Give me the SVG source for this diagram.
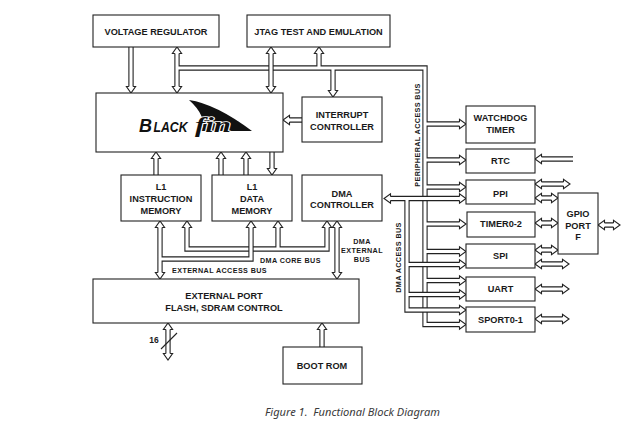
<svg xmlns="http://www.w3.org/2000/svg" xmlns:xlink="http://www.w3.org/1999/xlink" width="629" height="427" viewBox="0 0 629 427">
<style>
.box{fill:#fff;stroke:#222;stroke-width:1.1}
.o{fill:none;stroke:#222;stroke-width:5.3;stroke-linejoin:miter;stroke-linecap:butt}
.i{fill:none;stroke:#fff;stroke-width:3.1;stroke-linejoin:miter;stroke-linecap:butt}
.t{font-family:"Liberation Sans",Arial,sans-serif;font-weight:bold;font-size:9.2px;fill:#1a1a1a;text-anchor:middle}
.s{font-family:"Liberation Sans",Arial,sans-serif;font-weight:bold;font-size:7.2px;letter-spacing:0.4px;fill:#1a1a1a}
.sm{text-anchor:middle}
.logo{font-family:"Liberation Sans",Arial,sans-serif;font-weight:bold;font-style:italic;fill:#111}
</style>
<defs>
<path id="h" d="M-2.1,6.5 L-4.6,6.5 L0,0 L4.6,6.5 L2.1,6.5" fill="#fff" stroke="#222" stroke-width="1.1" stroke-linejoin="miter"/>
</defs>
<rect width="629" height="427" fill="#fff"/>
<g id="connectors">
 <g>
  <path class="o" d="M177,53 V87 M177,68 H425 V324.5 H460 M425,124 H460 M425,160 H460 M425,187 H460 M425,224 H460 M425,251.5 H460 M425,280.5 H460 M319,68 V53 M333,68 V91"/>
  <path class="i" d="M177,53 V87 M177,68 H425 V324.5 H460 M425,124 H460 M425,160 H460 M425,187 H460 M425,224 H460 M425,251.5 H460 M425,280.5 H460 M319,68 V53 M333,68 V91"/>
 </g>
 <g>
  <path class="o" d="M271,53 V87"/>
  <path class="i" d="M271,53 V87"/>
 </g>
 <g>
  <path class="o" d="M390,198.5 H460 M407,198.5 V310 H460 M407,264.5 H460 M407,294.5 H460"/>
  <path class="i" d="M390,198.5 H460 M407,198.5 V310 H460 M407,264.5 H460 M407,294.5 H460"/>
 </g>
 <g>
  <path class="o" d="M131,47 V87 M302,120 H289 M156,175 V158 M221,175 V158 M246,175 V158 M272,152 V169 M337,227 V273 M573,159 H541 M541,184 H564 M541,198 H552 M541,223 H552 M541,250 H552 M541,264 H563 M541,289 H563 M541,319 H563 M604,225 H614 M168,329 V354 M322,347 V329"/>
  <path class="i" d="M131,47 V87 M302,120 H289 M156,175 V158 M221,175 V158 M246,175 V158 M272,152 V169 M337,227 V273 M573,159 H541 M541,184 H564 M541,198 H552 M541,223 H552 M541,250 H552 M541,264 H563 M541,289 H563 M541,319 H563 M604,225 H614 M168,329 V354 M322,347 V329"/>
 </g>
 <g>
  <path class="o" d="M187,227 V249 H327 V227 M278,249 V227"/>
  <path class="i" d="M187,227 V249 H327 V227 M278,249 V227"/>
 </g>
 <g>
  <path class="o" d="M160,227 V273 M160,259 H251 V227"/>
  <path class="i" d="M160,227 V273 M160,259 H251 V227"/>
 </g>
 <g>
  <use xlink:href="#h" transform="translate(131,93) rotate(180)"/>
  <use xlink:href="#h" transform="translate(177,47)"/>
  <use xlink:href="#h" transform="translate(177,93) rotate(180)"/>
  <use xlink:href="#h" transform="translate(271,47)"/>
  <use xlink:href="#h" transform="translate(271,93) rotate(180)"/>
  <use xlink:href="#h" transform="translate(319,47)"/>
  <use xlink:href="#h" transform="translate(333,97) rotate(180)"/>
  <use xlink:href="#h" transform="translate(283,120) rotate(-90)"/>
  <use xlink:href="#h" transform="translate(156,152)"/>
  <use xlink:href="#h" transform="translate(221,152)"/>
  <use xlink:href="#h" transform="translate(246,152)"/>
  <use xlink:href="#h" transform="translate(272,175) rotate(180)"/>
  <use xlink:href="#h" transform="translate(160,221)"/>
  <use xlink:href="#h" transform="translate(160,279) rotate(180)"/>
  <use xlink:href="#h" transform="translate(251,221)"/>
  <use xlink:href="#h" transform="translate(187,221)"/>
  <use xlink:href="#h" transform="translate(278,221)"/>
  <use xlink:href="#h" transform="translate(327,221)"/>
  <use xlink:href="#h" transform="translate(337,221)"/>
  <use xlink:href="#h" transform="translate(337,279) rotate(180)"/>
  <use xlink:href="#h" transform="translate(384,198.5) rotate(-90)"/>
  <use xlink:href="#h" transform="translate(466,124) rotate(90)"/>
  <use xlink:href="#h" transform="translate(466,160) rotate(90)"/>
  <use xlink:href="#h" transform="translate(466,187) rotate(90)"/>
  <use xlink:href="#h" transform="translate(466,198.5) rotate(90)"/>
  <use xlink:href="#h" transform="translate(466,224) rotate(90)"/>
  <use xlink:href="#h" transform="translate(466,251.5) rotate(90)"/>
  <use xlink:href="#h" transform="translate(466,264.5) rotate(90)"/>
  <use xlink:href="#h" transform="translate(466,280.5) rotate(90)"/>
  <use xlink:href="#h" transform="translate(466,294.5) rotate(90)"/>
  <use xlink:href="#h" transform="translate(466,310) rotate(90)"/>
  <use xlink:href="#h" transform="translate(466,324.5) rotate(90)"/>
  <use xlink:href="#h" transform="translate(535,159) rotate(-90)"/>
  <use xlink:href="#h" transform="translate(535,184) rotate(-90)"/>
  <use xlink:href="#h" transform="translate(570,184) rotate(90)"/>
  <use xlink:href="#h" transform="translate(535,198) rotate(-90)"/>
  <use xlink:href="#h" transform="translate(558,198) rotate(90)"/>
  <use xlink:href="#h" transform="translate(535,223) rotate(-90)"/>
  <use xlink:href="#h" transform="translate(558,223) rotate(90)"/>
  <use xlink:href="#h" transform="translate(535,250) rotate(-90)"/>
  <use xlink:href="#h" transform="translate(558,250) rotate(90)"/>
  <use xlink:href="#h" transform="translate(535,264) rotate(-90)"/>
  <use xlink:href="#h" transform="translate(569,264) rotate(90)"/>
  <use xlink:href="#h" transform="translate(535,289) rotate(-90)"/>
  <use xlink:href="#h" transform="translate(569,289) rotate(90)"/>
  <use xlink:href="#h" transform="translate(535,319) rotate(-90)"/>
  <use xlink:href="#h" transform="translate(569,319) rotate(90)"/>
  <use xlink:href="#h" transform="translate(598,225) rotate(-90)"/>
  <use xlink:href="#h" transform="translate(620,225) rotate(90)"/>
  <use xlink:href="#h" transform="translate(168,323)"/>
  <use xlink:href="#h" transform="translate(168,360) rotate(180)"/>
  <use xlink:href="#h" transform="translate(322,323)"/>
 </g>
 <line x1="161" y1="349" x2="177" y2="333" stroke="#222" stroke-width="1.1"/>
 <text class="s sm" x="154" y="342.5" style="font-size:8.5px;letter-spacing:0">16</text>
 <text class="s" x="172" y="272.5">EXTERNAL ACCESS BUS</text>
 <text class="s" x="260" y="262.5">DMA CORE BUS</text>
 <text class="s sm" x="362" y="243.5">DMA</text>
 <text class="s sm" x="362" y="252.6">EXTERNAL</text>
 <text class="s sm" x="362" y="261.8">BUS</text>
 <text class="s sm" transform="translate(419.6,135) rotate(-90)">PERIPHERAL ACCESS BUS</text>
 <text class="s sm" transform="translate(401,257.5) rotate(-90)">DMA ACCESS BUS</text>
</g>
<g id="voltage-regulator">
 <rect class="box" x="93" y="15" width="126" height="32"/>
 <text class="t" x="156" y="34.8">VOLTAGE REGULATOR</text>
</g>
<g id="jtag">
 <rect class="box" x="247" y="15" width="143" height="32"/>
 <text class="t" x="318.5" y="34.8">JTAG TEST AND EMULATION</text>
</g>
<g id="core">
 <rect class="box" x="96" y="93" width="187" height="59"/>
 <path d="M189,100 Q216,104 252,131 L201,131 Q208,117 189,100 Z" fill="#111"/>
 <text class="logo" x="139" y="132" style="font-size:18px">B</text>
 <text class="logo" x="153.5" y="132" textLength="34" lengthAdjust="spacingAndGlyphs" style="font-size:14.5px">LACK</text>
 <text x="195" y="132" textLength="36" lengthAdjust="spacingAndGlyphs" style="font-family:'Liberation Serif','Times New Roman',serif;font-weight:bold;font-style:italic;font-size:20px;fill:#111;stroke:#fff;stroke-width:1.6;paint-order:stroke">fin</text>
 <text x="235" y="126" style="font-family:'Liberation Sans',Arial,sans-serif;font-size:6px;fill:#111">®</text>
</g>
<g id="interrupt-controller">
 <rect class="box" x="302" y="97" width="80" height="45"/>
 <text class="t" x="342" y="118.3">INTERRUPT</text>
 <text class="t" x="342" y="129.5">CONTROLLER</text>
</g>
<g id="l1-instruction">
 <rect class="box" x="121" y="175" width="80" height="46"/>
 <text class="t" x="161" y="190">L1</text>
 <text class="t" x="161" y="202.2">INSTRUCTION</text>
 <text class="t" x="161" y="214">MEMORY</text>
</g>
<g id="l1-data">
 <rect class="box" x="212" y="175" width="80" height="46"/>
 <text class="t" x="252" y="190">L1</text>
 <text class="t" x="252" y="202.2">DATA</text>
 <text class="t" x="252" y="214">MEMORY</text>
</g>
<g id="dma-controller">
 <rect class="box" x="302" y="175" width="80" height="46"/>
 <text class="t" x="342" y="196.6">DMA</text>
 <text class="t" x="342" y="207.6">CONTROLLER</text>
</g>
<g id="external-port">
 <rect class="box" x="93" y="279" width="266" height="44"/>
 <text class="t" x="224" y="299">EXTERNAL PORT</text>
 <text class="t" x="224" y="310.6">FLASH, SDRAM CONTROL</text>
</g>
<g id="boot-rom">
 <rect class="box" x="283" y="347" width="79" height="37"/>
 <text class="t" x="322" y="369">BOOT ROM</text>
</g>
<g id="watchdog">
 <rect class="box" x="466" y="106" width="69" height="37"/>
 <text class="t" x="500.5" y="121">WATCHDOG</text>
 <text class="t" x="500.5" y="132.6">TIMER</text>
</g>
<g id="rtc">
 <rect class="box" x="466" y="149" width="69" height="24"/>
 <text class="t" x="500.5" y="164">RTC</text>
</g>
<g id="ppi">
 <rect class="box" x="466" y="180" width="69" height="24"/>
 <text class="t" x="500.5" y="196.6">PPI</text>
</g>
<g id="timer">
 <rect class="box" x="467" y="212" width="68" height="25"/>
 <text class="t" x="501" y="227.3">TIMER0-2</text>
</g>
<g id="spi">
 <rect class="box" x="466" y="244" width="69" height="24"/>
 <text class="t" x="500.5" y="259">SPI</text>
</g>
<g id="uart">
 <rect class="box" x="466" y="277" width="69" height="24"/>
 <text class="t" x="500.5" y="292.3">UART</text>
</g>
<g id="sport">
 <rect class="box" x="466" y="307" width="69" height="25"/>
 <text class="t" x="500.5" y="323.3">SPORT0-1</text>
</g>
<g id="gpio">
 <rect class="box" x="558" y="193" width="40" height="61"/>
 <text class="t" x="578" y="216.6">GPIO</text>
 <text class="t" x="578" y="228.8">PORT</text>
 <text class="t" x="578" y="240">F</text>
</g>
<text x="265" y="415.7" textLength="175" lengthAdjust="spacingAndGlyphs" xml:space="preserve" style="font-family:'Noto Sans','Open Sans',sans-serif;font-style:italic;font-size:11.5px;fill:#3a3a3a">Figure 1.  Functional Block Diagram</text>
</svg>
